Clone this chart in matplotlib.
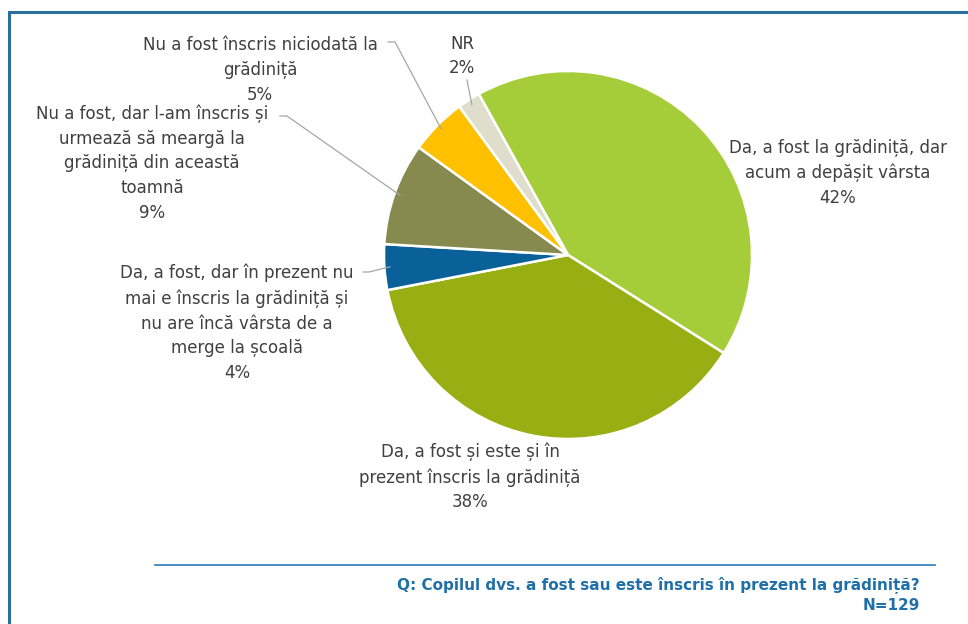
import numpy as np
import matplotlib.pyplot as plt
from matplotlib.lines import Line2D
from matplotlib.patches import Rectangle

# slices, clockwise from the top-left
labels = ["Da, a fost la grădiniță, dar\nacum a depășit vârsta",
          "Da, a fost și este și în\nprezent înscris la grădiniță",
          "Da, a fost, dar în prezent nu\nmai e înscris la grădiniță și\nnu are încă vârsta de a\nmerge la școală",
          "Nu a fost, dar l-am înscris și\nurmează să meargă la\ngrădiniță din această\ntoamnă",
          "Nu a fost înscris niciodată la\ngrădiniță",
          "NR"]
values = [42, 38, 4, 9, 5, 2]
colors = ["#A5CD39", "#97AF12", "#0A6098", "#878A4F", "#FFC000", "#DFDDCB"]

question = "Q: Copilul dvs. a fost sau este înscris în prezent la grădiniță?"
n_text = "N=129"

W, H = 968, 624
TXT = "#404040"
BLUE = "#2B7AB8"

plt.rcParams['font.family'] = ['DejaVu Sans']

fig = plt.figure(figsize=(W / 100, H / 100), dpi=100)


def fx(x):
    return x / W


def fy(y):
    return 1 - y / H


# pie axes: centre (568, 255), radius 184 px
cx, cy, r = 568, 255, 184
ax = fig.add_axes([fx(cx - r), fy(cy + r), 2 * r / W, 2 * r / H])
wedges, _ = ax.pie(values, colors=colors, startangle=119, counterclock=False,
                   radius=1, wedgeprops=dict(edgecolor="white", linewidth=1.8))
ax.set_xlim(-1, 1)
ax.set_ylim(-1, 1)
ax.set_aspect("auto")
ax.axis("off")

# label positions (px, centre of text block)
label_pos = [(838, 173), (470, 477), (237, 323), (152, 163), (260, 70), (462, 56)]
for lab, v, (x, y) in zip(labels, values, label_pos):
    fig.text(fx(x), fy(y), f"{lab}\n{v}%", ha="center", va="center",
             fontsize=12, color=TXT, linespacing=1.48)

# leader lines: from text to wedge middle
angles = []
a = 119
for v in values:
    angles.append(np.deg2rad(a - v * 3.6 / 2))
    a -= v * 3.6


def wedge_px(i, rr=1.0):
    return cx + r * rr * np.cos(angles[i]), cy - r * rr * np.sin(angles[i])


leaders = {
    4: [(388, 42), (395, 42)],
    5: [(467, 80), (467, 80)],
    3: [(280, 116), (287, 116)],
    2: [(363, 272), (369, 272)],
}
for i, pts in leaders.items():
    ex, ey = wedge_px(i, 0.97)
    xs = [p[0] for p in pts] + [ex]
    ys = [p[1] for p in pts] + [ey]
    fig.add_artist(Line2D([fx(x) for x in xs], [fy(y) for y in ys],
                          color="#A6A6A6", lw=0.9))

# frame and footer
fig.add_artist(Rectangle((fx(9), fy(700)), fx(1000), fy(12) - fy(700),
                         fill=False, edgecolor="#2C6E9E", lw=2.2,
                         transform=fig.transFigure))
fig.add_artist(Line2D([fx(155), fx(935)], [fy(565), fy(565)], color=BLUE, lw=1.2))
fig.text(fx(920), fy(585), question, ha="right", va="center",
         fontsize=11, fontweight="bold", color="#1F6FA8")
fig.text(fx(920), fy(606), n_text, ha="right", va="center",
         fontsize=11, fontweight="bold", color="#1F6FA8")

fig.savefig("out.png", dpi=100)
